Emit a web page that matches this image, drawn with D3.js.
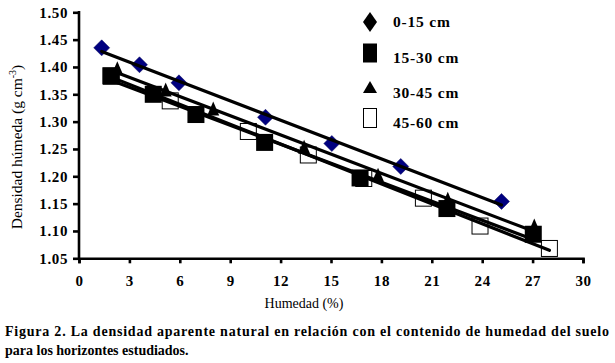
<!DOCTYPE html>
<html><head><meta charset="utf-8">
<script src="https://cdn.jsdelivr.net/npm/d3@7"></script>
<style>
body{margin:0;background:#fff;}
svg{display:block;}
text{font-family:"Liberation Serif","Times New Roman",serif;}
</style></head>
<body><svg id="c" width="615" height="363"></svg>
<script>
// ---- data ----
const seriesNames = ["0-15 cm", "15-30 cm", "30-45 cm", "45-60 cm"];
const s1x = [1.35, 3.6, 5.95, 11.1, 15.05, 19.15, 25.15];
const s1y = [1.435, 1.404, 1.371, 1.308, 1.260, 1.218, 1.154];
const s2x = [1.9, 4.42, 6.96, 11.05, 16.73, 21.9, 27.04];
const s2y = [1.384, 1.350, 1.313, 1.262, 1.197, 1.141, 1.094];
const s3x = [2.28, 5.16, 7.99, 13.4, 17.8, 21.95, 27.1];
const s3y = [1.396, 1.357, 1.322, 1.252, 1.201, 1.157, 1.108];
const s4x = [1.92, 5.43, 10.08, 13.65, 16.95, 20.5, 23.87, 28.0];
const s4y = [1.383, 1.338, 1.282, 1.239, 1.196, 1.160, 1.109, 1.068];
const xTicks = [0, 3, 6, 9, 12, 15, 18, 21, 24, 27, 30];
const yTicks = [1.05, 1.10, 1.15, 1.20, 1.25, 1.30, 1.35, 1.40, 1.45, 1.50];
const xTitle = "Humedad (%)";
const yTitle = "Densidad húmeda (g cm";
const captionLines = ["Figura 2. La densidad aparente natural en relación con el contenido de humedad del suelo",
                      "para los horizontes estudiados."];

const svg = d3.select("#c");
const x = d3.scaleLinear().domain([0, 30]).range([79, 583]);
const y = d3.scaleLinear().domain([1.05, 1.50]).range([258.3, 12.3]);

// axes
const yAxis = d3.axisLeft(y).tickValues(yTicks).tickFormat(d3.format(".2f")).tickSize(6).tickPadding(5);
const xAxis = d3.axisBottom(x).tickValues(xTicks).tickFormat(d3.format("d")).tickSize(5).tickPadding(12);
const gy = svg.append("g").attr("transform", "translate(79,0)").call(yAxis);
const gx = svg.append("g").attr("transform", "translate(0,258.3)").call(xAxis);
[gx, gy].forEach(g => {
  g.select(".domain").attr("stroke", "#000").attr("stroke-width", 2.6);
  g.selectAll(".tick line").attr("stroke", "#000").attr("stroke-width", 2.6);
  g.selectAll(".tick text").attr("fill", "#000").attr("font-size", 15).attr("font-weight", "bold")
    .style("font-family", '"Liberation Serif","Times New Roman",serif').style("letter-spacing", "0.6px");
});
gy.select(".domain").attr("d", "M0,258.3V11");

function pts(xs, ys) { return xs.map((v, i) => [v, ys[i]]); }

// open squares (drawn first)
svg.append("g").selectAll("rect").data(pts(s4x, s4y)).join("rect")
  .attr("x", d => x(d[0]) - 8).attr("y", d => y(d[1]) - 8).attr("width", 16).attr("height", 16)
  .attr("fill", "#fff").attr("stroke", "#000").attr("stroke-width", 1);
// filled squares
svg.append("g").selectAll("rect").data(pts(s2x, s2y)).join("rect")
  .attr("x", d => x(d[0]) - 8.5).attr("y", d => y(d[1]) - 8.5).attr("width", 17).attr("height", 17)
  .attr("fill", "#000");
// triangles
svg.append("g").selectAll("path").data(pts(s3x, s3y)).join("path")
  .attr("transform", d => `translate(${x(d[0])},${y(d[1])})`)
  .attr("d", "M0,-8L6,6L-6,6Z").attr("fill", "#000");
// diamonds
svg.append("g").selectAll("path").data(pts(s1x, s1y)).join("path")
  .attr("transform", d => `translate(${x(d[0])},${y(d[1])})`)
  .attr("d", "M0,-8L8,0L0,8L-8,0Z").attr("fill", "#000080").attr("stroke", "#0a0a5a").attr("stroke-width", 0.5);

// linear trend lines
function fit(xs, ys) {
  const mx = d3.mean(xs), my = d3.mean(ys);
  let sxy = 0, sxx = 0;
  xs.forEach((v, i) => { sxy += (v - mx) * (ys[i] - my); sxx += (v - mx) * (v - mx); });
  const b = sxy / sxx, a = my - b * mx;
  const x0 = d3.min(xs), x1 = d3.max(xs);
  return [[x0, a + b * x0], [x1, a + b * x1]];
}
const line = d3.line().x(d => x(d[0])).y(d => y(d[1]));
[[s1x, s1y], [s2x, s2y], [s3x, s3y], [s4x, s4y]].forEach(([xs, ys]) => {
  svg.append("path").attr("d", line(fit(xs, ys))).attr("stroke", "#000").attr("stroke-width", 3.2)
    .attr("fill", "none").attr("stroke-linecap", "round");
});

// legend
const lg = svg.append("g");
const legY = [22, 53, 87, 118];
const legText = [27, 63, 98, 128];
lg.append("path").attr("d", `M370,${legY[0]-10}L377,${legY[0]}L370,${legY[0]+10}L363,${legY[0]}Z`).attr("fill", "#000");
lg.append("rect").attr("x", 363).attr("y", legY[1]-9.5).attr("width", 14).attr("height", 19).attr("fill", "#000");
lg.append("path").attr("d", `M370,${legY[2]-6}L377,${legY[2]+6}L363,${legY[2]+6}Z`).attr("fill", "#000");
lg.append("rect").attr("x", 363.5).attr("y", legY[3]-9.5).attr("width", 13).attr("height", 19).attr("fill", "#fff").attr("stroke", "#000").attr("stroke-width", 1);
seriesNames.forEach((n, i) => {
  lg.append("text").attr("x", 393).attr("y", legText[i]).attr("font-size", 15.5).attr("font-weight", "bold")
    .style("letter-spacing", "0.8px").text(n);
});

// axis titles
svg.append("text").attr("x", 304).attr("y", 308).attr("text-anchor", "middle").attr("font-size", 14).text(xTitle);
const yt = svg.append("text").attr("transform", "translate(22,147) rotate(-90)").attr("text-anchor", "middle").attr("font-size", 15.5);
yt.append("tspan").text(yTitle);
yt.append("tspan").attr("font-size", 10).attr("dy", -6).text("-3");
yt.append("tspan").attr("dy", 6).text(")");

// caption
svg.append("text").attr("x", 5).attr("y", 336).attr("font-size", 14).attr("font-weight", "bold")
  .attr("textLength", 604).attr("lengthAdjust", "spacing").text(captionLines[0]);
svg.append("text").attr("x", 5).attr("y", 355).attr("font-size", 14).attr("font-weight", "bold").text(captionLines[1]);
</script></body></html>
